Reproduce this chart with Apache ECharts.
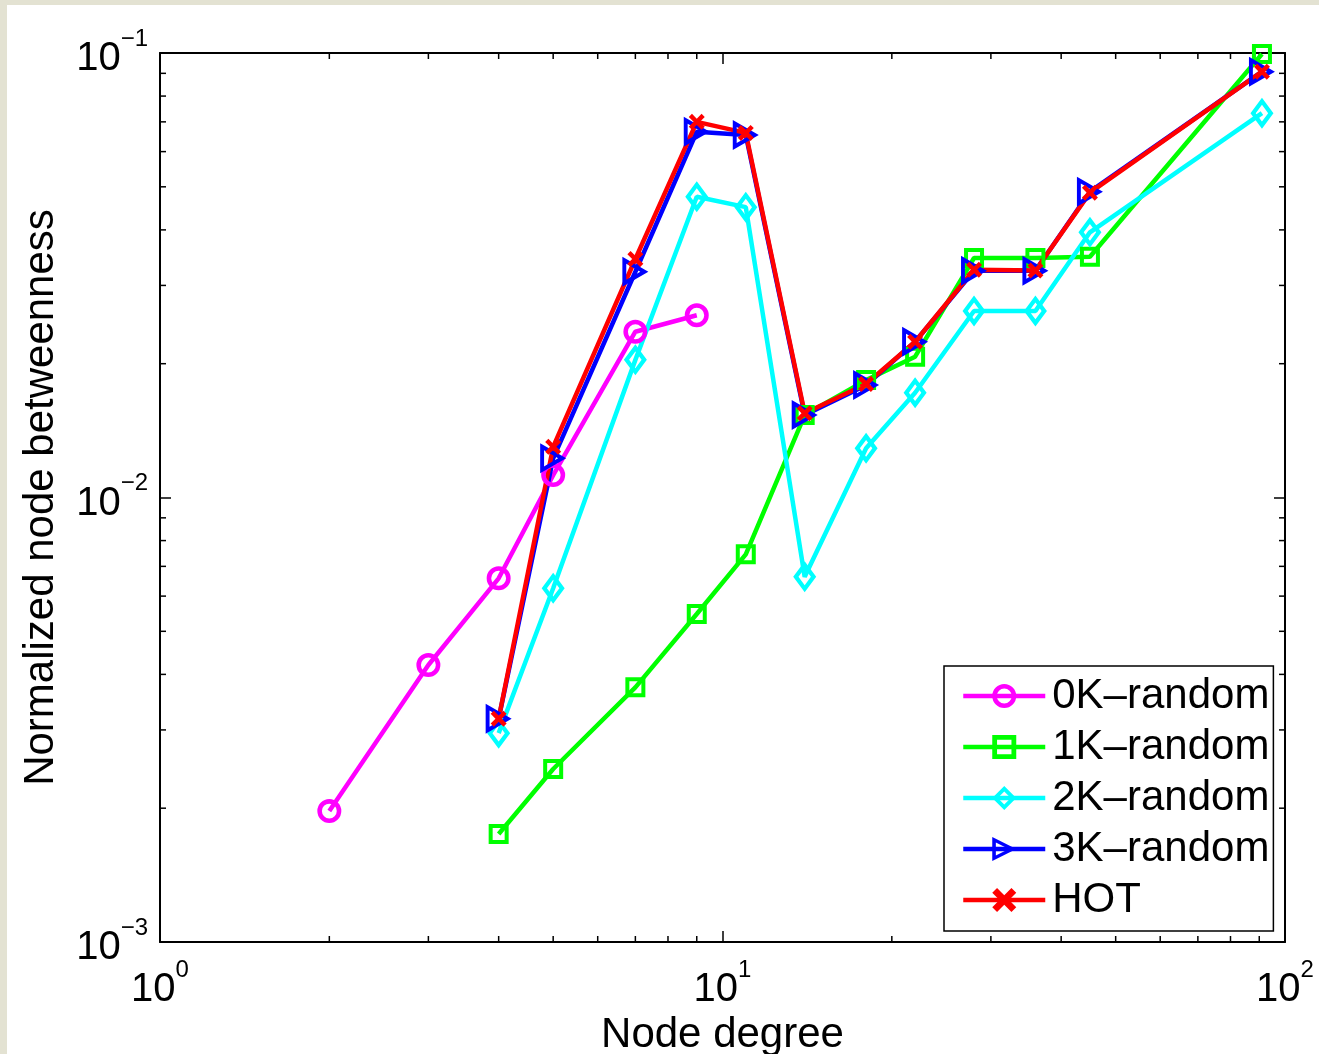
<!DOCTYPE html>
<html>
<head>
<meta charset="utf-8">
<script src="https://cdn.jsdelivr.net/npm/echarts@6/dist/echarts.min.js"></script>
<style>
  html, body { margin: 0; padding: 0; }
  body { width: 1319px; height: 1054px; background: #e3e2d2; position: relative; overflow: hidden; }
  #chart { position: absolute; left: 7px; top: 5px; width: 1312px; height: 1049px; background: #fff; }
</style>
</head>
<body>
<div id="chart"></div>
<script>
// ---- data ----
const degrees0K = [2, 3, 4, 5, 7, 9];
const values0K = [0.00197, 0.0042, 0.00658, 0.01123, 0.0236, 0.0257];

const degrees = [4, 5, 7, 9, 11, 14, 18, 22, 28, 36, 45, 91];
const values1K = [0.00175, 0.00245, 0.00374, 0.00547, 0.00745, 0.01533, 0.01837, 0.02074, 0.03458, 0.03458, 0.03481, 0.0995];
const values2K = [0.00295, 0.00625, 0.0204, 0.0475, 0.045, 0.00663, 0.0129, 0.01721, 0.02628, 0.02628, 0.0395, 0.0732];
const values3K = [0.00318, 0.01225, 0.0322, 0.0665, 0.0654, 0.01533, 0.0179, 0.02241, 0.03237, 0.03237, 0.04875, 0.0908];
const valuesHOT = [0.00318, 0.0130, 0.0344, 0.0700, 0.0661, 0.01547, 0.0180, 0.02241, 0.03254, 0.0324, 0.04851, 0.0908];

const seriesNames = ['0K\u2013random', '1K\u2013random', '2K\u2013random', '3K\u2013random', 'HOT'];

const X_MIN = 1, X_MAX = 100;
const Y_MIN = 0.001, Y_MAX = 0.1;
const xMinorTicks = [2, 3, 4, 5, 6, 7, 8, 9, 20, 30, 40, 50, 60, 70, 80, 90];
const yMinorTicks = [0.002, 0.003, 0.004, 0.005, 0.006, 0.007, 0.008, 0.009, 0.02, 0.03, 0.04, 0.05, 0.06, 0.07, 0.08, 0.09];

// ---- styling ----
const FONT = "'Liberation Sans', Arial, Helvetica, sans-serif";
const MAJOR_LEN = 11, MINOR_LEN = 6;

function pairs(xs, ys) { return xs.map((x, i) => [x, ys[i]]); }

function powLabel(v) {
  const e = Math.round(Math.log10(v));
  const es = e < 0 ? '\u2212' + Math.abs(e) : String(e);
  return '{b|10}{s|' + es + '}';
}
const labelRich = {
  b: { fontSize: 40, fontFamily: FONT, color: '#000', lineHeight: 52, verticalAlign: 'bottom' },
  s: { fontSize: 24, fontFamily: FONT, color: '#000', lineHeight: 24, verticalAlign: 'top' }
};

// hollow marker shapes (outer contour + reversed inner contour => ring)
const circleRing = 'path://M0,50 A50,50 0 1,1 100,50 A50,50 0 1,1 0,50 Z M19,50 A31,31 0 1,0 81,50 A31,31 0 1,0 19,50 Z';
const squareRing = 'path://M0,0 L100,0 L100,100 L0,100 Z M20,20 L20,80 L80,80 L80,20 Z';
const diamondRing = 'path://M50,0 L100,50 L50,100 L0,50 Z M50,23 L23,50 L50,77 L77,50 Z';
const triRing = 'path://M0,0 L100,50 L0,100 Z M15,23 L15,77 L69,50 Z';
const xMark = 'path://M2,0 L5,3 L8,0 L10,2 L7,5 L10,8 L8,10 L5,7 L2,10 L0,8 L3,5 L0,2 Z';

function lineSeries(name, data, color, symbol, size) {
  return {
    name: name,
    type: 'line',
    data: data,
    xAxisIndex: 0, yAxisIndex: 0,
    symbol: symbol,
    symbolSize: size,
    symbolKeepAspect: false,
    showAllSymbol: true,
    lineStyle: { color: color, width: 4.5 },
    itemStyle: { color: color, borderWidth: 0 },
    emphasis: { disabled: true },
    animation: false
  };
}

function minorRenderX(params, api) {
  const v = api.value(0);
  const b = api.coord([v, Y_MIN]);
  const t = api.coord([v, Y_MAX]);
  return { type: 'group', children: [
    { type: 'line', shape: { x1: b[0], y1: b[1], x2: b[0], y2: b[1] - MINOR_LEN }, style: { stroke: '#000', lineWidth: 1.5 } },
    { type: 'line', shape: { x1: t[0], y1: t[1], x2: t[0], y2: t[1] + MINOR_LEN }, style: { stroke: '#000', lineWidth: 1.5 } }
  ]};
}
function minorRenderY(params, api) {
  const v = api.value(1);
  const l = api.coord([X_MIN, v]);
  const r = api.coord([X_MAX, v]);
  return { type: 'group', children: [
    { type: 'line', shape: { x1: l[0], y1: l[1], x2: l[0] + MINOR_LEN, y2: l[1] }, style: { stroke: '#000', lineWidth: 1.5 } },
    { type: 'line', shape: { x1: r[0], y1: r[1], x2: r[0] - MINOR_LEN, y2: r[1] }, style: { stroke: '#000', lineWidth: 1.5 } }
  ]};
}

const axisLineStyle = { show: true, lineStyle: { color: '#000', width: 2 } };
const tickStyle = { show: true, inside: true, length: MAJOR_LEN, lineStyle: { color: '#000', width: 1.5 } };

const chart = echarts.init(document.getElementById('chart'), null, { renderer: 'canvas' });
chart.setOption({
  backgroundColor: '#fff',
  animation: false,
  grid: { left: 153, top: 48, right: 34, bottom: 112, containLabel: false, outerBoundsMode: 'none' },
  legend: {
    data: seriesNames,
    orient: 'vertical',
    left: 937, top: 661,
    padding: [9, 4, 10, 17],
    itemWidth: 82, itemHeight: 30, itemGap: 9,
    borderColor: '#000', borderWidth: 1.5, borderRadius: 0,
    backgroundColor: '#fff',
    selectedMode: false,
    lineStyle: { width: 4.5 },
    itemStyle: { borderWidth: 0 },
    textStyle: { fontSize: 42, fontFamily: FONT, color: '#000', lineHeight: 40, padding: [0, 0, 0, 2] }
  },
  xAxis: [{
    type: 'log', logBase: 10, min: X_MIN, max: X_MAX, position: 'bottom',
    name: 'Node degree', nameLocation: 'middle', nameGap: 67,
    nameTextStyle: { fontSize: 42, fontFamily: FONT, color: '#000' },
    axisLine: axisLineStyle, axisTick: tickStyle,
    axisLabel: { show: true, margin: 16, formatter: powLabel, rich: labelRich },
    splitLine: { show: false }, minorTick: { show: false }
  }, {
    type: 'log', logBase: 10, min: X_MIN, max: X_MAX, position: 'top',
    axisLine: axisLineStyle, axisTick: tickStyle, axisLabel: { show: false }, splitLine: { show: false }
  }],
  yAxis: [{
    type: 'log', logBase: 10, min: Y_MIN, max: Y_MAX, position: 'left',
    name: 'Normalized node betweenness', nameLocation: 'middle', nameGap: 98, nameRotate: 90,
    nameTextStyle: { fontSize: 42, fontFamily: FONT, color: '#000' },
    axisLine: axisLineStyle, axisTick: tickStyle,
    axisLabel: { show: true, margin: 12, formatter: powLabel, rich: labelRich },
    splitLine: { show: false }
  }, {
    type: 'log', logBase: 10, min: Y_MIN, max: Y_MAX, position: 'right',
    axisLine: axisLineStyle, axisTick: tickStyle, axisLabel: { show: false }, splitLine: { show: false }
  }],
  series: [
    { name: 'xminor', type: 'custom', silent: true, renderItem: minorRenderX, data: xMinorTicks.map(v => [v, Y_MIN]), z: 1, animation: false },
    { name: 'yminor', type: 'custom', silent: true, renderItem: minorRenderY, data: yMinorTicks.map(v => [X_MIN, v]), z: 1, animation: false },
    lineSeries(seriesNames[0], pairs(degrees0K, values0K), '#ff00ff', circleRing, 24),
    lineSeries(seriesNames[1], pairs(degrees, values1K), '#00ff00', squareRing, 20),
    lineSeries(seriesNames[2], pairs(degrees, values2K), '#00ffff', diamondRing, [23, 31]),
    lineSeries(seriesNames[3], pairs(degrees, values3K), '#0000ff', triRing, [26, 30]),
    lineSeries(seriesNames[4], pairs(degrees, valuesHOT), '#ff0000', xMark, 16)
  ]
});
</script>
</body>
</html>
